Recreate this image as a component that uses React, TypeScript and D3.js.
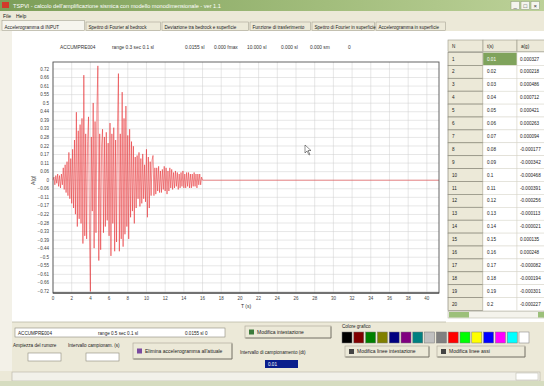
import React from 'react';
import * as d3 from 'd3';

const W = 544;
const H = 386;
const FONT = "'Liberation Sans', Arial, sans-serif";
const BEIGE = '#ece9d8';

// accelerogram, g, one sample every 0.1 s
const SAMPLE_DT = 0.1;
const accelerogram = [
  0, 0.02, -0.03, 0.03, -0.02, 0.04, -0.04, 0.03, -0.05, 0.04,
  -0.03, 0.08, -0.06, 0.1, -0.08, 0.12, -0.1, 0.18, -0.12, 0.14,
  -0.15, 0.2, -0.18, 0.26, -0.22, 0.44, -0.3, 0.32, -0.25, 0.36,
  -0.28, 0.4, -0.41, 0.68, -0.36, 0.3, -0.38, 0.25, 0.41, -0.32,
  -0.72, 0.28, -0.2, 0.5, -0.44, 0.38, -0.34, 0.46, 0.74, -0.52,
  0.3, -0.45, 0.22, 0.33, -0.34, 0.28, -0.3, 0.31, -0.26, 0.24,
  -0.36, 0.37, -0.49, 0.3, -0.28, 0.34, -0.46, 0.26, -0.4, 0.35,
  0.69, -0.46, 0.3, -0.38, 0.57, -0.43, 0.4, -0.35, 0.48, -0.3,
  0.29, -0.38, 0.33, -0.24, 0.25, -0.2, 0.22, -0.28, 0.15, -0.18,
  0.16, -0.12, 0.18, -0.17, 0.14, -0.15, 0.17, -0.12, 0.1, -0.14,
  0.2, -0.24, 0.15, -0.18, 0.12, -0.1, 0.13, 0.16, -0.1, 0.08,
  -0.09, 0.08, -0.07, 0.09, -0.08, 0.06, -0.08, 0.07, -0.06, 0.09,
  -0.07, 0.08, -0.09, 0.06, -0.07, 0.08, -0.05, 0.07, -0.06, 0.05,
  -0.05, 0.06, -0.04, 0.05, -0.06, 0.04, -0.05, 0.05, -0.04, 0.06,
  -0.05, 0.04, -0.05, 0.05, -0.04, 0.05, -0.05, 0.04, -0.05, 0.04,
  -0.04, 0.05, -0.04, 0.04, -0.05, 0.04, -0.03, 0.04, -0.03, 0.02,
];

const timeTicks = [0, 2, 4, 6, 8, 10, 12, 14, 16, 18, 20, 22, 24, 26, 28, 30, 32, 34, 36, 38, 40];
const accelMax = 0.72;
const accelSteps = 13;

const headerItems = ['ACCUMPRE004', 'range 0.3 sec  0.1 sl', '0.0155 sl', '0.000 fmax', '10.000 sl', '0.000 sl', '0.000 sm', '0'];
const headerX = [60, 112, 185, 214, 247, 281, 310, 348];

const tabs = [
  'Accelerogramma di INPUT',
  'Spettro di Fourier al bedrock',
  'Deviazione tra bedrock e superficie',
  'Funzione di trasferimento',
  'Spettro di Fourier in superficie',
  'Accelerogramma in superficie',
];
const tabEdges = [2, 86, 162, 250, 312, 376, 447];

const tableN = [1, 2, 3, 4, 5, 6, 7, 8, 9, 10, 11, 12, 13, 14, 15, 16, 17, 18, 19, 20];
const tableT = ['0.01', '0.02', '0.03', '0.04', '0.05', '0.06', '0.07', '0.08', '0.09', '0.1',
  '0.11', '0.12', '0.13', '0.14', '0.15', '0.16', '0.17', '0.18', '0.19', '0.2'];
const tableA = ['0.000327', '0.000218', '0.000486', '0.000712', '0.000421', '0.000263', '0.000094',
  '-0.000177', '-0.000342', '-0.000468', '-0.000391', '-0.000256', '-0.000113', '-0.000021',
  '0.000135', '0.000248', '-0.000082', '-0.000194', '-0.000301', '-0.000227'];

const swatches = ['#000000', '#800000', '#008000', '#808000', '#000080', '#800080', '#008080', '#c0c0c0',
  '#808080', '#ff0000', '#00ff00', '#ffff00', '#0000ff', '#ff00ff', '#00ffff', '#ffffff'];

const plot = { left: 53, right: 439, top: 62, bottom: 293 };

const Button = ({ x, y, w, h, label, icon }: any) => (
  <g>
    <rect x={x} y={y} width={w} height={h} fill={BEIGE} stroke="#a8a494" strokeWidth={0.6} />
    <line x1={x + 0.5} y1={y + h} x2={x + w} y2={y + h} stroke="#716f64" strokeWidth={0.8} />
    <line x1={x + w} y1={y + 0.5} x2={x + w} y2={y + h} stroke="#716f64" strokeWidth={0.8} />
    {icon && <rect x={x + 4} y={y + h / 2 - 2.5} width={5} height={5} fill={icon} />}
    <text x={x + (icon ? 12 : 8)} y={y + h / 2 + 1.8} fontSize={5} fill="#222">{label}</text>
  </g>
);

export default function App() {
  const x = d3.scaleLinear().domain([0, 41.3]).range([plot.left, plot.right]);
  const y = d3.scaleLinear().domain([-0.73, 0.765]).range([plot.bottom, plot.top]);
  const accelTicks = d3.range(-accelSteps, accelSteps + 1).map((k) => (k * accelMax) / accelSteps);
  const fmt = d3.format('.2~f');

  const points: [number, number][] = accelerogram.map((a, i) => [i * SAMPLE_DT, a]);
  points.push([accelerogram.length * SAMPLE_DT, 0], [x.domain()[1], 0]);
  const line = d3.line<[number, number]>().x((d) => x(d[0])).y((d) => y(d[1]));

  const rowTop = 52.5;
  const rowH = 12.9;
  const cols = [448, 483, 517, 548];

  return (
    <>
      <style>{'body{margin:0}'}</style>
      <svg width={W} height={H} style={{ display: 'block', fontFamily: FONT }}>
        <defs>
          <linearGradient id="titleGrad" x1="0" x2="1" y1="0" y2="0">
            <stop offset="0" stopColor="#7c9e58" />
            <stop offset="0.6" stopColor="#a2bd7c" />
            <stop offset="1" stopColor="#bcd198" />
          </linearGradient>
          <clipPath id="tableClip">
            <rect x={446} y={30} width={98} height={292} />
          </clipPath>
        </defs>
        <rect width={W} height={H} fill={BEIGE} />

        {/* title bar */}
        <rect x={0} y={0} width={W} height={11} fill="url(#titleGrad)" />
        <rect x={2} y={2} width={7} height={6} fill="#d23a2a" />
        <text x={13} y={8} fontSize={5.6} fill="#fff">
          TSPVI - calcolo dell'amplificazione sismica con modello monodimensionale - ver 1.1
        </text>
        {['_', '□', '×'].map((s, i) => (
          <g key={s}>
            <rect x={511 + i * 10} y={1.5} width={8.5} height={8} fill="#f4f4ee" stroke="#8a9a78" strokeWidth={0.5} />
            <text x={515.2 + i * 10} y={8} fontSize={6} textAnchor="middle" fill="#333">{s}</text>
          </g>
        ))}

        {/* menu */}
        <text x={3} y={17.5} fontSize={5} fill="#222">File</text>
        <text x={16} y={17.5} fontSize={5} fill="#222">Help</text>

        {/* tabs */}
        {tabs.map((t, i) => (
          <g key={t}>
            <rect x={tabEdges[i]} y={i === 0 ? 20.5 : 22} width={tabEdges[i + 1] - tabEdges[i] - 1.5} height={i === 0 ? 10 : 8.5}
              fill={i === 0 ? '#f6f5ee' : BEIGE} stroke="#9a9888" strokeWidth={0.5} />
            <text x={tabEdges[i] + 2.5} y={28.5} fontSize={4.6} fill="#222">{t}</text>
          </g>
        ))}

        {/* chart panel */}
        <rect x={12} y={31} width={434} height={291} fill="#fff" />
        <rect x={0} y={31} width={12} height={340} fill="#f3f1e8" />

        {headerItems.map((h, i) => (
          <text key={h} x={headerX[i]} y={49} fontSize={4.8} fill="#333">{h}</text>
        ))}

        {/* grid */}
        {timeTicks.map((t) => (
          <line key={'gx' + t} x1={x(t)} x2={x(t)} y1={plot.top} y2={plot.bottom} stroke="#cfcfcf" strokeWidth={0.5} />
        ))}
        {accelTicks.map((v) => (
          <line key={'gy' + v} x1={plot.left} x2={plot.right} y1={y(v)} y2={y(v)} stroke="#cfcfcf" strokeWidth={0.5} />
        ))}

        <path d={line(points) || ''} fill="none" stroke="#e62225" strokeOpacity={0.85} strokeWidth={0.6} strokeLinejoin="round" />

        <rect x={plot.left} y={plot.top} width={plot.right - plot.left} height={plot.bottom - plot.top}
          fill="none" stroke="#555" strokeWidth={0.9} />
        <line x1={plot.left} x2={plot.right} y1={plot.bottom} y2={plot.bottom} stroke="#333" strokeWidth={1.2} />

        {accelTicks.map((v) => (
          <text key={'ly' + v} x={plot.left - 4} y={y(v) + 1.6} fontSize={4.5} textAnchor="end" fill="#444">
            {fmt(v)}
          </text>
        ))}
        {timeTicks.map((t) => (
          <text key={'lx' + t} x={x(t)} y={300} fontSize={4.5} textAnchor="middle" fill="#444">{t}</text>
        ))}
        <text x={246} y={308} fontSize={5} textAnchor="middle" fill="#333">T (s)</text>
        <text transform={`translate(35,${y(0)}) rotate(-90)`} fontSize={5} textAnchor="middle" fill="#333">A(g)</text>

        {/* mouse pointer */}
        <path d="M305,145 L305,153 L307,151 L309,155 L310,154.5 L308,150.5 L311,150.5 Z" fill="#fff" stroke="#222" strokeWidth={0.5} />

        {/* table */}
        <g clipPath="url(#tableClip)">
          <rect x={446} y={31} width={98} height={291} fill="#fff" />
          {['N', 't(s)', 'a(g)'].map((h, i) => (
            <g key={h}>
              <rect x={cols[i]} y={40} width={cols[i + 1] - cols[i]} height={11.5} fill={BEIGE} stroke="#9a9888" strokeWidth={0.6} />
              <text x={cols[i] + 4} y={47.5} fontSize={4.6} fill="#222">{h}</text>
            </g>
          ))}
          {tableN.map((n, r) => {
            const ry = rowTop + r * rowH;
            return (
              <g key={n}>
                <rect x={cols[0]} y={ry} width={cols[1] - cols[0]} height={rowH} fill={BEIGE} stroke="#8d8b7c" strokeWidth={0.7} />
                <rect x={cols[1]} y={ry} width={cols[2] - cols[1]} height={rowH} fill={r === 0 ? '#7fa35c' : '#fff'} stroke="#d6d4c8" strokeWidth={0.5} />
                <rect x={cols[2]} y={ry} width={cols[3] - cols[2]} height={rowH} fill="#fff" stroke="#d6d4c8" strokeWidth={0.5} />
                <text x={cols[0] + 4} y={ry + 8} fontSize={4.6} fill="#222">{n}</text>
                <text x={cols[1] + 4} y={ry + 8} fontSize={4.6} fill={r === 0 ? '#fff' : '#222'}>{tableT[r]}</text>
                <text x={cols[2] + 3} y={ry + 8} fontSize={4.6} fill="#222">{tableA[r]}</text>
              </g>
            );
          })}
          <rect x={448} y={311.5} width={96} height={6.5} fill="#f4f3ec" stroke="#b0ae9e" strokeWidth={0.5} />
          <rect x={449} y={312} width={20} height={5.5} fill="#9cc07a" />
          <rect x={538} y={312} width={6} height={5.5} fill="#9cc07a" />
        </g>

        {/* bottom controls */}
        <line x1={12} x2={446} y1={322} y2={322} stroke="#bdbaa8" strokeWidth={0.8} />
        <rect x={15} y={328} width={210} height={9} fill="#fff" stroke="#8d8b7c" strokeWidth={0.6} />
        <text x={18} y={334.5} fontSize={4.6} fill="#222">ACCUMPRE004</text>
        <text x={98} y={334.5} fontSize={4.6} fill="#222">range 0.5 sec  0.1 sl</text>
        <text x={185} y={334.5} fontSize={4.6} fill="#222">0.0155 sl    0</text>
        <Button x={245} y={326} w={86} h={12} label="Modifica intestazione" icon="#3a7a3a" />

        <text x={13} y={347} fontSize={4.6} fill="#222">Ampiezza del rumore</text>
        <text x={68} y={347} fontSize={4.6} fill="#222">Intervallo campionam. (s)</text>
        <rect x={28} y={353} width={33} height={8} fill="#fff" stroke="#8d8b7c" strokeWidth={0.6} />
        <rect x={86} y={353} width={33} height={8} fill="#fff" stroke="#8d8b7c" strokeWidth={0.6} />
        <Button x={133} y={343} w={99} h={16} label="Elimina accelerogramma all'attuale" icon="#7a4aa0" />

        <text x={240} y={354} fontSize={4.6} fill="#222">Intervallo di campionamento (dt)</text>
        <rect x={265} y={360} width={33} height={8} fill="#0a1e8c" />
        <text x={268} y={366} fontSize={4.6} fill="#fff">0.01</text>

        <text x={342} y={328} fontSize={4.6} fill="#222">Colore grafico</text>
        {swatches.map((c, i) => (
          <rect key={c} x={342 + i * 11.8} y={332} width={10} height={11} fill={c} stroke="#777" strokeWidth={0.5} />
        ))}
        <Button x={345} y={346} w={84} h={11} label="Modifica linee intestazione" icon="#444" />
        <Button x={437} y={346} w={88} h={11} label="Modifica linee assi" icon="#444" />

        {/* status / scroll bar */}
        <rect x={12} y={372} width={528} height={9} fill="#f2f1ea" stroke="#b5b3a3" strokeWidth={0.6} />
        <rect x={516} y={373} width={22} height={7} fill="#fff" stroke="#b5b3a3" strokeWidth={0.5} />
        <rect x={0} y={381} width={W} height={5} fill="#d6dcc0" />
      </svg>
    </>
  );
}
